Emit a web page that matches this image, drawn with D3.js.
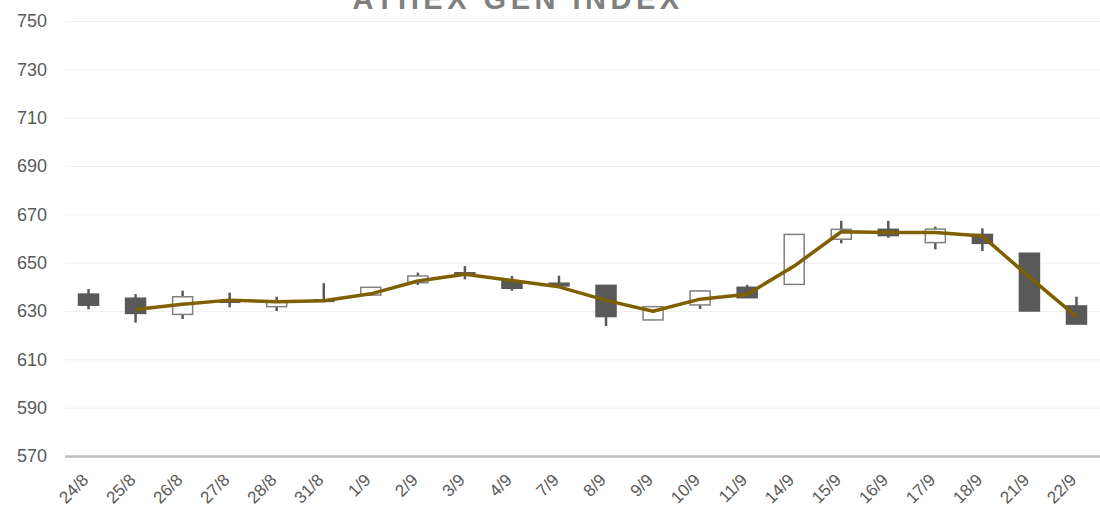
<!DOCTYPE html>
<html><head><meta charset="utf-8">
<script src="https://cdn.jsdelivr.net/npm/d3@7"></script>
<style>body{margin:0;background:#fff}svg{display:block}</style>
</head><body>
<svg id="c" width="1100" height="517"></svg>
<script>
const categories = ["24/8","25/8","26/8","27/8","28/8","31/8","1/9","2/9","3/9","4/9","7/9","8/9","9/9","10/9","11/9","14/9","15/9","16/9","17/9","18/9","21/9","22/9"];
const openVals  = [637.0,635.3,628.6,634.3,631.8,634.6,636.6,641.7,645.8,642.1,641.5,640.6,626.3,632.5,639.8,641.0,659.7,663.8,658.3,661.7,653.9,632.1];
const highVals  = [639.1,637.0,638.4,637.6,635.9,641.5,640.0,645.9,648.6,644.5,644.6,640.8,631.9,638.4,640.8,661.8,667.3,667.3,664.9,664.2,654.0,635.9];
const lowVals   = [630.7,625.2,626.7,631.5,630.0,633.8,636.4,640.8,643.1,638.4,640.2,623.8,626.2,630.8,635.4,640.9,658.0,660.3,655.5,654.8,629.9,624.5];
const closeVals = [632.4,629.0,635.9,633.6,633.9,634.0,639.8,644.5,645.3,639.4,640.4,627.7,631.8,638.3,635.5,661.7,663.8,661.2,663.9,658.0,630.0,624.6];
const lineVals  = [null,630.6,632.8,634.5,633.8,634.2,637.1,642.4,645.2,642.6,640.0,634.4,629.9,634.9,636.9,648.6,662.8,662.5,662.5,661.0,644.0,627.7];
const yTicks = [570,590,610,630,650,670,690,710,730,750];
const title = "ATHEX GEN INDEX";

const svg = d3.select("#c");
const m = {l:65, r:0, t:21, b:61};
const W = 1100, H = 517;
const x = d3.scaleBand().domain(categories).range([m.l, W - m.r]);
const y = d3.scaleLinear().domain([570, 750]).range([H - m.b, m.t]);

// title (partly above the top edge, as in the reference)
svg.append("text").attr("x", 518).attr("y", 9).attr("text-anchor","middle")
  .attr("font-family","'Liberation Sans', Arial, sans-serif").attr("font-weight","bold")
  .attr("font-size", 29).attr("letter-spacing", "4.5px").attr("fill","#808080").text(title);

// gridlines
const yAxis = d3.axisLeft(y).tickValues(yTicks).tickSize(-(W - m.l - m.r)).tickPadding(18).tickFormat(d3.format("d"));
const ga = svg.append("g").attr("transform", `translate(${m.l},0)`).call(yAxis);
ga.select(".domain").remove();
ga.selectAll(".tick line").attr("stroke", "#efefef").attr("stroke-width", 1);
ga.selectAll(".tick text").attr("font-family","'Liberation Sans Narrow','Liberation Sans',sans-serif")
  .attr("font-size", 18).attr("fill","#595959");
ga.selectAll(".tick").filter(d => d === 570).select("line").attr("stroke","#bfbfbf").attr("stroke-width",2.5);

// x axis labels
const xAxis = d3.axisBottom(x).tickSize(0).tickPadding(0);
const gx = svg.append("g").attr("transform", `translate(0,${H - m.b})`).call(xAxis);
gx.select(".domain").remove();
gx.selectAll(".tick text")
  .attr("font-family","'Liberation Sans Narrow','Liberation Sans',sans-serif")
  .attr("font-size", 17).attr("fill","#595959")
  .attr("text-anchor","end").attr("dy", null)
  .attr("transform","translate(1,25) rotate(-45)");

// candles
const data = categories.map((c,i)=>({c, o:openVals[i], h:highVals[i], l:lowVals[i], cl:closeVals[i]}));
const bw = 20;
const g = svg.append("g");
g.selectAll("line.wick").data(data).join("line").attr("class","wick")
  .attr("x1", d => x(d.c) + x.bandwidth()/2).attr("x2", d => x(d.c) + x.bandwidth()/2)
  .attr("y1", d => y(d.h)).attr("y2", d => y(d.l))
  .attr("stroke", "#595959").attr("stroke-width", 2.5);
g.selectAll("rect.body").data(data).join("rect").attr("class","body")
  .attr("x", d => x(d.c) + x.bandwidth()/2 - bw/2).attr("width", bw)
  .attr("y", d => y(Math.max(d.o, d.cl)))
  .attr("height", d => Math.max(1.5, Math.abs(y(d.o) - y(d.cl))))
  .attr("fill", d => d.cl >= d.o ? "#ffffff" : "#595959")
  .attr("stroke", d => d.cl >= d.o ? "#808080" : "#595959").attr("stroke-width", 1.5);

// line
const lineData = categories.map((c,i)=>({c, v: lineVals[i]})).filter(d => d.v !== null);
svg.append("path").datum(lineData)
  .attr("d", d3.line().x(d => x(d.c) + x.bandwidth()/2).y(d => y(d.v)))
  .attr("fill","none").attr("stroke","#7f6000").attr("stroke-width",3.5).attr("stroke-linejoin","round");
</script>
</body></html>
